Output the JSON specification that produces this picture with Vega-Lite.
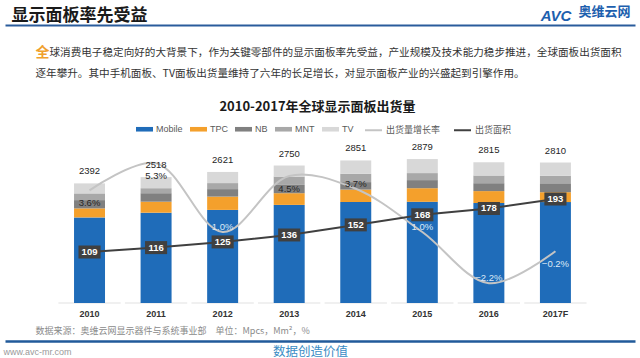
{
  "$schema": "https://vega.github.io/schema/vega-lite/v6.json",
  "width": 630,
  "height": 278,
  "autosize": {"type": "none"},
  "padding": {"left": 5, "right": 5, "top": 25, "bottom": 55},
  "background": "#ffffff",
  "config": {
    "view": {"stroke": null},
    "axis": {"grid": false, "labels": false, "ticks": false, "domain": false, "titleAngle": 0, "titleAlign": "left", "titleBaseline": "middle", "titleFontWeight": "normal", "titleFont": "Noto Sans CJK SC"}
  },
  "datasets": {
    "stack": [
      {"year": "2010", "type": "Mobile", "value": 1712}, {"year": "2010", "type": "TPC", "value": 180}, {"year": "2010", "type": "NB", "value": 166}, {"year": "2010", "type": "MNT", "value": 134}, {"year": "2010", "type": "TV", "value": 200},
      {"year": "2011", "type": "Mobile", "value": 1806}, {"year": "2011", "type": "TPC", "value": 220}, {"year": "2011", "type": "NB", "value": 170}, {"year": "2011", "type": "MNT", "value": 100}, {"year": "2011", "type": "TV", "value": 222},
      {"year": "2012", "type": "Mobile", "value": 1862}, {"year": "2012", "type": "TPC", "value": 266}, {"year": "2012", "type": "NB", "value": 150}, {"year": "2012", "type": "MNT", "value": 120}, {"year": "2012", "type": "TV", "value": 223},
      {"year": "2013", "type": "Mobile", "value": 1962}, {"year": "2013", "type": "TPC", "value": 234}, {"year": "2013", "type": "NB", "value": 166}, {"year": "2013", "type": "MNT", "value": 166}, {"year": "2013", "type": "TV", "value": 222},
      {"year": "2014", "type": "Mobile", "value": 2020}, {"year": "2014", "type": "TPC", "value": 248}, {"year": "2014", "type": "NB", "value": 150}, {"year": "2014", "type": "MNT", "value": 168}, {"year": "2014", "type": "TV", "value": 265},
      {"year": "2015", "type": "Mobile", "value": 2024}, {"year": "2015", "type": "TPC", "value": 272}, {"year": "2015", "type": "NB", "value": 162}, {"year": "2015", "type": "MNT", "value": 140}, {"year": "2015", "type": "TV", "value": 281},
      {"year": "2016", "type": "Mobile", "value": 2000}, {"year": "2016", "type": "TPC", "value": 238}, {"year": "2016", "type": "NB", "value": 158}, {"year": "2016", "type": "MNT", "value": 154}, {"year": "2016", "type": "TV", "value": 265},
      {"year": "2017F", "type": "Mobile", "value": 2018}, {"year": "2017F", "type": "TPC", "value": 198}, {"year": "2017F", "type": "NB", "value": 178}, {"year": "2017F", "type": "MNT", "value": 152}, {"year": "2017F", "type": "TV", "value": 264}
    ],
    "annual": [
      {"year": "2010", "total": 2392, "growth": 0.036, "area": 109},
      {"year": "2011", "total": 2518, "growth": 0.053, "area": 116},
      {"year": "2012", "total": 2621, "growth": 0.010, "area": 125},
      {"year": "2013", "total": 2750, "growth": 0.045, "area": 136},
      {"year": "2014", "total": 2851, "growth": 0.037, "area": 152},
      {"year": "2015", "total": 2879, "growth": 0.010, "area": 168},
      {"year": "2016", "total": 2815, "growth": -0.022, "area": 178},
      {"year": "2017F", "total": 2810, "growth": -0.002, "area": 193}
    ]
  },
  "resolve": {"scale": {"y": "independent"}, "axis": {"x": "independent", "y": "independent"}},
  "layer": [
    {
      "data": {"name": "annual"},
      "mark": {"type": "tick", "size": 62.3, "thickness": 1, "color": "#d4d4d4", "orient": "horizontal"},
      "encoding": {
        "x": {"field": "year", "type": "ordinal", "axis": {"orient": "top", "offset": 0, "domain": true, "domainColor": "#2a5c9c", "domainWidth": 2, "title": "显示面板率先受益", "titleX": 6, "titleY": -10, "titleFontSize": 17, "titleFontWeight": "bold", "titleColor": "#1a1a1a"}},
        "y": {"datum": 0, "type": "quantitative", "scale": {"domain": [0, 5560], "nice": false}, "axis": {"orient": "left", "title": "全", "titleX": 30, "titleY": 27, "titleFontSize": 14, "titleFontWeight": "bold", "titleColor": "#f0a02c"}}
      }
    },
    {
      "data": {"name": "stack"},
      "transform": [{"calculate": "indexof(['Mobile','TPC','NB','MNT','TV'], datum.type)", "as": "stackRank"}],
      "mark": {"type": "bar"},
      "encoding": {
        "x": {"field": "year", "type": "ordinal", "scale": {"paddingInner": 0.5345, "paddingOuter": 1.3232, "align": 0.5186},
          "axis": {"orient": "bottom", "labels": true, "labelAngle": 0, "labelPadding": 6, "labelFont": "Liberation Sans", "labelFontSize": 9, "labelFontWeight": "bold", "labelColor": "#333333",
            "title": "数据来源：奥维云网显示器件与系统事业部　单位：Mpcs，Mm²，%", "titleX": 30, "titleY": 27, "titleFontSize": 9, "titleColor": "#8a8a8a"}},
        "y": {"field": "value", "type": "quantitative", "stack": "zero", "scale": {"domain": [0, 5560], "nice": false},
          "axis": {"orient": "left", "title": "球消费电子稳定向好的大背景下，作为关键零部件的显示面板率先受益，产业规模及技术能力稳步推进，全球面板出货面积",
            "titleX": 44, "titleY": 27, "titleFontSize": 10.6, "titleColor": "#333333"}},
        "order": {"field": "stackRank", "type": "quantitative", "sort": "ascending"},
        "color": {"field": "type", "type": "nominal",
          "scale": {"domain": ["Mobile", "TPC", "NB", "MNT", "TV"], "range": ["#1f6cb9", "#f4a02c", "#808080", "#a8a8a8", "#d8d8d8"]},
          "legend": {"orient": "none", "legendX": 131, "legendY": 95.5, "direction": "horizontal", "columns": 5, "title": null, "padding": 0,
            "symbolType": "M-1,-0.27H1V0.27H-1Z", "symbolSize": 289, "symbolStrokeWidth": 0, "labelFont": "Liberation Sans", "labelFontSize": 9, "labelColor": "#595959", "labelOffset": 3, "columnPadding": 7}}
      }
    },
    {
      "data": {"name": "annual"},
      "mark": {"type": "line", "interpolate": "catmull-rom", "strokeWidth": 2},
      "encoding": {
        "x": {"field": "year", "type": "ordinal", "axis": {"orient": "top", "title": "2010-2017年全球显示面板出货量", "titleX": 312, "titleY": 81, "titleAlign": "center", "titleFontSize": 13, "titleFontWeight": "bold", "titleColor": "#1a1a1a"}},
        "y": {"field": "growth", "type": "quantitative", "scale": {"domain": [-0.034375, 0.139375], "nice": false, "zero": false},
          "axis": {"orient": "left", "title": "AVC", "titleX": 550.5, "titleY": -10, "titleAlign": "center", "titleFont": "Liberation Sans", "titleFontSize": 15, "titleFontWeight": "bold", "titleFontStyle": "italic", "titleColor": "#1d5fae"}},
        "stroke": {"datum": "出货量增长率", "type": "nominal",
          "scale": {"domain": ["出货量增长率", "出货面积"], "range": ["#c4c4c4", "#404040"]},
          "legend": {"orient": "none", "legendX": 359, "legendY": 95.5, "direction": "horizontal", "columns": 2, "title": null, "padding": 0,
            "symbolType": "stroke", "symbolSize": 289, "symbolStrokeWidth": 2, "labelFont": "Noto Sans CJK SC", "labelFontSize": 9, "labelColor": "#595959", "labelOffset": 3, "columnPadding": 9}}
      }
    },
    {
      "data": {"name": "annual"},
      "mark": {"type": "line", "strokeWidth": 2},
      "encoding": {
        "x": {"field": "year", "type": "ordinal", "axis": null},
        "y": {"field": "area", "type": "quantitative", "scale": {"domain": [28.2, 468.8], "nice": false, "zero": false},
          "axis": {"orient": "left", "title": "逐年攀升。其中手机面板、TV面板出货量维持了六年的长足增长，对显示面板产业的兴盛起到引擎作用。",
            "titleX": 30, "titleY": 48, "titleFontSize": 10.6, "titleColor": "#333333"}},
        "stroke": {"datum": "出货面积", "type": "nominal"}
      }
    },
    {
      "data": {"name": "annual"},
      "mark": {"type": "point", "shape": "M-1.7,-1H1.7V1H-1.7Z", "size": 169, "filled": true, "opacity": 1, "color": "#404040"},
      "encoding": {
        "x": {"field": "year", "type": "ordinal", "axis": null},
        "y": {"field": "area", "type": "quantitative", "scale": {"domain": [28.2, 468.8], "nice": false, "zero": false}, "axis": null}
      }
    },
    {
      "data": {"name": "annual"},
      "mark": {"type": "text", "font": "Liberation Sans", "fontSize": 9.5, "fontWeight": "bold", "color": "#ffffff", "baseline": "middle"},
      "encoding": {
        "x": {"field": "year", "type": "ordinal", "axis": null},
        "y": {"field": "area", "type": "quantitative", "scale": {"domain": [28.2, 468.8], "nice": false, "zero": false}, "axis": null},
        "text": {"field": "area", "type": "quantitative", "format": "d"}
      }
    },
    {
      "data": {"name": "annual"},
      "transform": [{"filter": {"not": {"field": "year", "oneOf": ["2012", "2014", "2015", "2016"]}}}],
      "mark": {"type": "text", "font": "Liberation Sans", "fontSize": 9.5, "baseline": "middle", "dy": 13},
      "encoding": {
        "x": {"field": "year", "type": "ordinal", "axis": null},
        "y": {"field": "growth", "type": "quantitative", "scale": {"domain": [-0.034375, 0.139375], "nice": false, "zero": false},
          "axis": {"orient": "left", "title": "奥维云网", "titleX": 573, "titleY": -14, "titleFontSize": 13, "titleFontWeight": "bold", "titleColor": "#1d5fae"}},
        "text": {"field": "growth", "type": "quantitative", "format": ".1%"},
        "color": {"condition": {"test": "datum.growth <= 0.01", "value": "#dde9f6"}, "value": "#262626"}
      }
    },
    {
      "data": {"name": "annual"},
      "transform": [{"filter": {"field": "year", "oneOf": ["2012", "2014", "2015", "2016"]}}],
      "mark": {"type": "text", "font": "Liberation Sans", "fontSize": 9.5, "baseline": "middle", "dy": -5},
      "encoding": {
        "x": {"field": "year", "type": "ordinal", "axis": null},
        "y": {"field": "growth", "type": "quantitative", "scale": {"domain": [-0.034375, 0.139375], "nice": false, "zero": false}, "axis": null},
        "text": {"field": "growth", "type": "quantitative", "format": ".1%"},
        "color": {"condition": {"test": "datum.growth <= 0.01", "value": "#dde9f6"}, "value": "#262626"}
      }
    },
    {
      "data": {"name": "annual"},
      "mark": {"type": "text", "font": "Liberation Sans", "fontSize": 9.5, "color": "#262626", "baseline": "middle", "dy": -12},
      "encoding": {
        "x": {"field": "year", "type": "ordinal", "axis": {"orient": "bottom", "offset": 38, "domain": true, "domainColor": "#215a9a", "domainWidth": 2.5, "title": "数据创造价值", "titleX": 305, "titleY": 10, "titleAlign": "center", "titleFontSize": 12.5, "titleColor": "#3a8cc4"}},
        "y": {"field": "total", "type": "quantitative", "scale": {"domain": [0, 5560], "nice": false},
          "axis": {"orient": "left", "title": "www.avc-mr.com", "titleX": -2, "titleY": 326, "titleFont": "Liberation Sans", "titleFontSize": 9, "titleColor": "#9a9a9a"}},
        "text": {"field": "total", "type": "quantitative", "format": "d"}
      }
    }
  ]
}
